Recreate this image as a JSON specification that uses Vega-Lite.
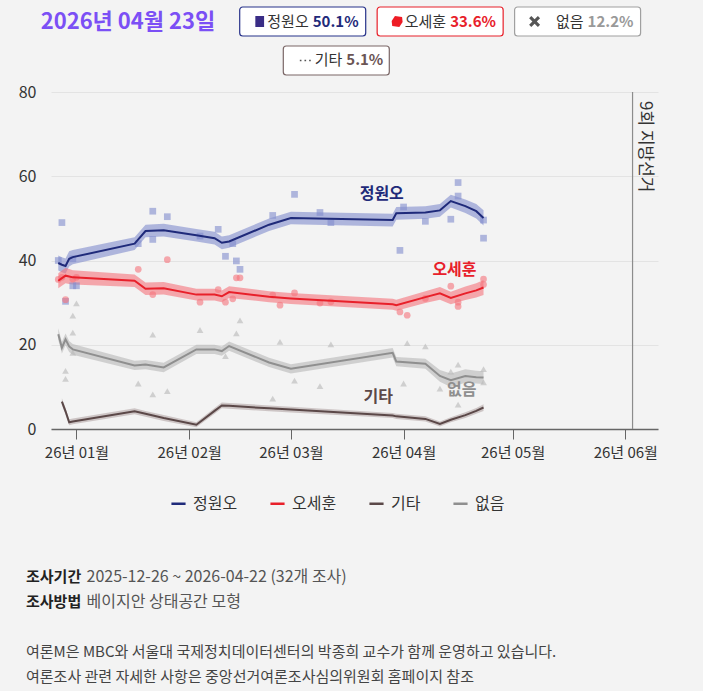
{
  "$schema": "https://vega.github.io/schema/vega-lite/v6.json",
  "background": "#f3f3f3",
  "padding": {"left": 18, "top": 6, "right": 45, "bottom": 10},
  "bounds": "flush",
  "spacing": 17,
  "config": {"font": "Noto Sans CJK KR", "view": {"stroke": null}},
  "datasets": {
    "badges": [
      {"row": 1, "key": "date", "label": "2026년 04월 23일"},
      {"row": 1, "key": "정원오", "pct": 0.501},
      {"row": 1, "key": "오세훈", "pct": 0.336},
      {"row": 1, "key": "없음", "pct": 0.122},
      {"row": 2, "key": "기타", "pct": 0.051}
    ],
    "trend": [
      {"who": "정원오", "date": "2025-12-27", "v": 39.4, "lo": 37.6, "hi": 41.2},
      {"who": "정원오", "date": "2025-12-28", "v": 39.0, "lo": 37.2, "hi": 40.8},
      {"who": "정원오", "date": "2025-12-29", "v": 38.7, "lo": 36.9, "hi": 40.5},
      {"who": "정원오", "date": "2025-12-30", "v": 40.4, "lo": 38.6, "hi": 42.2},
      {"who": "정원오", "date": "2025-12-31", "v": 40.8, "lo": 39.1, "hi": 42.5},
      {"who": "정원오", "date": "2026-01-17", "v": 44.0, "lo": 42.5, "hi": 45.5},
      {"who": "정원오", "date": "2026-01-20", "v": 47.0, "lo": 45.5, "hi": 48.5},
      {"who": "정원오", "date": "2026-01-25", "v": 47.2, "lo": 45.7, "hi": 48.7},
      {"who": "정원오", "date": "2026-02-03", "v": 46.0, "lo": 44.5, "hi": 47.5},
      {"who": "정원오", "date": "2026-02-08", "v": 45.3, "lo": 43.8, "hi": 46.8},
      {"who": "정원오", "date": "2026-02-10", "v": 44.2, "lo": 42.7, "hi": 45.7},
      {"who": "정원오", "date": "2026-02-12", "v": 44.5, "lo": 43.0, "hi": 46.0},
      {"who": "정원오", "date": "2026-02-23", "v": 48.5, "lo": 47.0, "hi": 50.0},
      {"who": "정원오", "date": "2026-03-01", "v": 50.1, "lo": 48.6, "hi": 51.6},
      {"who": "정원오", "date": "2026-03-29", "v": 49.6, "lo": 48.1, "hi": 51.1},
      {"who": "정원오", "date": "2026-03-30", "v": 51.2, "lo": 49.7, "hi": 52.7},
      {"who": "정원오", "date": "2026-04-07", "v": 51.4, "lo": 49.9, "hi": 52.9},
      {"who": "정원오", "date": "2026-04-11", "v": 51.9, "lo": 50.4, "hi": 53.4},
      {"who": "정원오", "date": "2026-04-14", "v": 54.1, "lo": 52.6, "hi": 55.6},
      {"who": "정원오", "date": "2026-04-18", "v": 52.9, "lo": 51.3, "hi": 54.5},
      {"who": "정원오", "date": "2026-04-21", "v": 51.7, "lo": 50.0, "hi": 53.4},
      {"who": "정원오", "date": "2026-04-23", "v": 50.1, "lo": 48.3, "hi": 51.9},
      {"who": "오세훈", "date": "2025-12-27", "v": 35.2, "lo": 33.4, "hi": 37.0},
      {"who": "오세훈", "date": "2025-12-28", "v": 35.8, "lo": 34.0, "hi": 37.6},
      {"who": "오세훈", "date": "2025-12-29", "v": 36.4, "lo": 34.6, "hi": 38.2},
      {"who": "오세훈", "date": "2025-12-30", "v": 36.2, "lo": 34.4, "hi": 38.0},
      {"who": "오세훈", "date": "2025-12-31", "v": 36.0, "lo": 34.3, "hi": 37.7},
      {"who": "오세훈", "date": "2026-01-17", "v": 35.2, "lo": 33.7, "hi": 36.7},
      {"who": "오세훈", "date": "2026-01-20", "v": 33.3, "lo": 31.8, "hi": 34.8},
      {"who": "오세훈", "date": "2026-01-25", "v": 33.4, "lo": 31.9, "hi": 34.9},
      {"who": "오세훈", "date": "2026-02-03", "v": 31.9, "lo": 30.5, "hi": 33.3},
      {"who": "오세훈", "date": "2026-02-08", "v": 31.9, "lo": 30.5, "hi": 33.3},
      {"who": "오세훈", "date": "2026-02-10", "v": 31.5, "lo": 30.1, "hi": 32.9},
      {"who": "오세훈", "date": "2026-02-12", "v": 32.5, "lo": 31.1, "hi": 33.9},
      {"who": "오세훈", "date": "2026-02-23", "v": 31.4, "lo": 30.1, "hi": 32.7},
      {"who": "오세훈", "date": "2026-03-01", "v": 31.0, "lo": 29.7, "hi": 32.3},
      {"who": "오세훈", "date": "2026-03-29", "v": 29.6, "lo": 28.3, "hi": 30.9},
      {"who": "오세훈", "date": "2026-03-30", "v": 29.4, "lo": 28.1, "hi": 30.7},
      {"who": "오세훈", "date": "2026-04-07", "v": 31.3, "lo": 29.9, "hi": 32.7},
      {"who": "오세훈", "date": "2026-04-11", "v": 32.2, "lo": 30.7, "hi": 33.7},
      {"who": "오세훈", "date": "2026-04-14", "v": 31.1, "lo": 29.6, "hi": 32.6},
      {"who": "오세훈", "date": "2026-04-18", "v": 32.2, "lo": 30.6, "hi": 33.8},
      {"who": "오세훈", "date": "2026-04-21", "v": 32.9, "lo": 31.2, "hi": 34.6},
      {"who": "오세훈", "date": "2026-04-23", "v": 33.6, "lo": 31.8, "hi": 35.4},
      {"who": "없음", "date": "2025-12-27", "v": 22.5, "lo": 21.1, "hi": 23.9},
      {"who": "없음", "date": "2025-12-28", "v": 19.3, "lo": 17.9, "hi": 20.7},
      {"who": "없음", "date": "2025-12-29", "v": 21.3, "lo": 19.9, "hi": 22.7},
      {"who": "없음", "date": "2025-12-30", "v": 19.6, "lo": 18.3, "hi": 20.9},
      {"who": "없음", "date": "2025-12-31", "v": 18.9, "lo": 17.6, "hi": 20.2},
      {"who": "없음", "date": "2026-01-17", "v": 15.1, "lo": 14.0, "hi": 16.2},
      {"who": "없음", "date": "2026-01-20", "v": 15.3, "lo": 14.2, "hi": 16.4},
      {"who": "없음", "date": "2026-01-25", "v": 14.6, "lo": 13.5, "hi": 15.7},
      {"who": "없음", "date": "2026-02-03", "v": 18.9, "lo": 17.8, "hi": 20.0},
      {"who": "없음", "date": "2026-02-08", "v": 18.9, "lo": 17.8, "hi": 20.0},
      {"who": "없음", "date": "2026-02-10", "v": 18.5, "lo": 17.4, "hi": 19.6},
      {"who": "없음", "date": "2026-02-12", "v": 19.7, "lo": 18.6, "hi": 20.8},
      {"who": "없음", "date": "2026-02-23", "v": 15.8, "lo": 14.7, "hi": 16.9},
      {"who": "없음", "date": "2026-03-01", "v": 14.3, "lo": 13.2, "hi": 15.4},
      {"who": "없음", "date": "2026-03-29", "v": 18.1, "lo": 17.0, "hi": 19.2},
      {"who": "없음", "date": "2026-03-30", "v": 16.0, "lo": 14.9, "hi": 17.1},
      {"who": "없음", "date": "2026-04-07", "v": 15.5, "lo": 14.3, "hi": 16.7},
      {"who": "없음", "date": "2026-04-11", "v": 12.6, "lo": 11.2, "hi": 14.0},
      {"who": "없음", "date": "2026-04-14", "v": 11.6, "lo": 10.0, "hi": 13.2},
      {"who": "없음", "date": "2026-04-18", "v": 12.6, "lo": 11.0, "hi": 14.2},
      {"who": "없음", "date": "2026-04-21", "v": 12.3, "lo": 10.8, "hi": 13.8},
      {"who": "없음", "date": "2026-04-23", "v": 12.2, "lo": 10.7, "hi": 13.7},
      {"who": "기타", "date": "2025-12-28", "v": 6.5, "lo": 5.7, "hi": 7.3},
      {"who": "기타", "date": "2025-12-29", "v": 4.2, "lo": 3.4, "hi": 5.0},
      {"who": "기타", "date": "2025-12-30", "v": 1.6, "lo": 0.9, "hi": 2.3},
      {"who": "기타", "date": "2025-12-31", "v": 1.8, "lo": 1.1, "hi": 2.5},
      {"who": "기타", "date": "2026-01-17", "v": 4.2, "lo": 3.5, "hi": 4.9},
      {"who": "기타", "date": "2026-01-20", "v": 3.6, "lo": 2.9, "hi": 4.3},
      {"who": "기타", "date": "2026-01-25", "v": 2.6, "lo": 1.9, "hi": 3.3},
      {"who": "기타", "date": "2026-02-03", "v": 1.0, "lo": 0.4, "hi": 1.6},
      {"who": "기타", "date": "2026-02-08", "v": 4.3, "lo": 3.6, "hi": 5.0},
      {"who": "기타", "date": "2026-02-10", "v": 5.6, "lo": 4.9, "hi": 6.3},
      {"who": "기타", "date": "2026-02-12", "v": 5.5, "lo": 4.8, "hi": 6.2},
      {"who": "기타", "date": "2026-02-23", "v": 4.9, "lo": 4.2, "hi": 5.6},
      {"who": "기타", "date": "2026-03-01", "v": 4.6, "lo": 3.9, "hi": 5.3},
      {"who": "기타", "date": "2026-03-29", "v": 3.2, "lo": 2.6, "hi": 3.8},
      {"who": "기타", "date": "2026-03-30", "v": 3.0, "lo": 2.4, "hi": 3.6},
      {"who": "기타", "date": "2026-04-07", "v": 2.4, "lo": 1.8, "hi": 3.0},
      {"who": "기타", "date": "2026-04-11", "v": 1.2, "lo": 0.6, "hi": 1.8},
      {"who": "기타", "date": "2026-04-14", "v": 2.2, "lo": 1.6, "hi": 2.8},
      {"who": "기타", "date": "2026-04-18", "v": 3.3, "lo": 2.6, "hi": 4.0},
      {"who": "기타", "date": "2026-04-21", "v": 4.3, "lo": 3.6, "hi": 5.0},
      {"who": "기타", "date": "2026-04-23", "v": 5.1, "lo": 4.3, "hi": 5.9}
    ],
    "polls": [
      {"who": "정원오", "date": "2025-12-27", "v": 40.0},
      {"who": "정원오", "date": "2025-12-28", "v": 49.0},
      {"who": "정원오", "date": "2025-12-29", "v": 30.3},
      {"who": "정원오", "date": "2025-12-31", "v": 40.4},
      {"who": "정원오", "date": "2025-12-31", "v": 34.0},
      {"who": "정원오", "date": "2026-01-01", "v": 34.0},
      {"who": "정원오", "date": "2026-01-18", "v": 44.0},
      {"who": "정원오", "date": "2026-01-22", "v": 51.7},
      {"who": "정원오", "date": "2026-01-22", "v": 45.0},
      {"who": "정원오", "date": "2026-01-26", "v": 50.4},
      {"who": "정원오", "date": "2026-02-04", "v": 45.8},
      {"who": "정원오", "date": "2026-02-09", "v": 47.4},
      {"who": "정원오", "date": "2026-02-11", "v": 41.0},
      {"who": "정원오", "date": "2026-02-13", "v": 44.0},
      {"who": "정원오", "date": "2026-02-14", "v": 39.9},
      {"who": "정원오", "date": "2026-02-15", "v": 37.9},
      {"who": "정원오", "date": "2026-02-24", "v": 50.7},
      {"who": "정원오", "date": "2026-03-02", "v": 55.7},
      {"who": "정원오", "date": "2026-03-09", "v": 51.4},
      {"who": "정원오", "date": "2026-03-12", "v": 49.0},
      {"who": "정원오", "date": "2026-03-31", "v": 42.4},
      {"who": "정원오", "date": "2026-04-01", "v": 52.7},
      {"who": "정원오", "date": "2026-04-07", "v": 49.3},
      {"who": "정원오", "date": "2026-04-14", "v": 49.8},
      {"who": "정원오", "date": "2026-04-16", "v": 58.5},
      {"who": "정원오", "date": "2026-04-16", "v": 55.3},
      {"who": "정원오", "date": "2026-04-23", "v": 49.6},
      {"who": "정원오", "date": "2026-04-23", "v": 45.3},
      {"who": "오세훈", "date": "2025-12-27", "v": 35.5},
      {"who": "오세훈", "date": "2025-12-28", "v": 36.0},
      {"who": "오세훈", "date": "2025-12-29", "v": 30.7},
      {"who": "오세훈", "date": "2025-12-31", "v": 35.6},
      {"who": "오세훈", "date": "2026-01-01", "v": 36.0},
      {"who": "오세훈", "date": "2026-01-18", "v": 37.9},
      {"who": "오세훈", "date": "2026-01-22", "v": 31.9},
      {"who": "오세훈", "date": "2026-01-26", "v": 40.2},
      {"who": "오세훈", "date": "2026-02-04", "v": 30.1},
      {"who": "오세훈", "date": "2026-02-09", "v": 33.1},
      {"who": "오세훈", "date": "2026-02-11", "v": 30.1},
      {"who": "오세훈", "date": "2026-02-13", "v": 30.9},
      {"who": "오세훈", "date": "2026-02-14", "v": 35.9},
      {"who": "오세훈", "date": "2026-02-15", "v": 35.9},
      {"who": "오세훈", "date": "2026-02-24", "v": 31.8},
      {"who": "오세훈", "date": "2026-02-26", "v": 29.4},
      {"who": "오세훈", "date": "2026-03-02", "v": 32.3},
      {"who": "오세훈", "date": "2026-03-09", "v": 29.9},
      {"who": "오세훈", "date": "2026-03-12", "v": 30.2},
      {"who": "오세훈", "date": "2026-03-31", "v": 27.8},
      {"who": "오세훈", "date": "2026-04-02", "v": 27.0},
      {"who": "오세훈", "date": "2026-04-07", "v": 31.0},
      {"who": "오세훈", "date": "2026-04-14", "v": 33.9},
      {"who": "오세훈", "date": "2026-04-16", "v": 29.1},
      {"who": "오세훈", "date": "2026-04-16", "v": 30.1},
      {"who": "오세훈", "date": "2026-04-23", "v": 35.6},
      {"who": "오세훈", "date": "2026-04-23", "v": 34.3},
      {"who": "없음", "date": "2025-12-29", "v": 13.8},
      {"who": "없음", "date": "2025-12-29", "v": 11.9},
      {"who": "없음", "date": "2025-12-31", "v": 26.9},
      {"who": "없음", "date": "2025-12-31", "v": 22.9},
      {"who": "없음", "date": "2025-12-31", "v": 18.1},
      {"who": "없음", "date": "2026-01-01", "v": 29.8},
      {"who": "없음", "date": "2026-01-18", "v": 10.8},
      {"who": "없음", "date": "2026-01-22", "v": 22.4},
      {"who": "없음", "date": "2026-01-22", "v": 8.2},
      {"who": "없음", "date": "2026-01-26", "v": 9.0},
      {"who": "없음", "date": "2026-02-04", "v": 23.5},
      {"who": "없음", "date": "2026-02-11", "v": 17.3},
      {"who": "없음", "date": "2026-02-14", "v": 22.7},
      {"who": "없음", "date": "2026-02-15", "v": 25.8},
      {"who": "없음", "date": "2026-02-24", "v": 7.2},
      {"who": "없음", "date": "2026-02-26", "v": 20.7},
      {"who": "없음", "date": "2026-03-02", "v": 11.5},
      {"who": "없음", "date": "2026-03-09", "v": 10.2},
      {"who": "없음", "date": "2026-03-12", "v": 20.1},
      {"who": "없음", "date": "2026-04-01", "v": 10.8},
      {"who": "없음", "date": "2026-04-02", "v": 20.4},
      {"who": "없음", "date": "2026-04-07", "v": 19.6},
      {"who": "없음", "date": "2026-04-11", "v": 9.6},
      {"who": "없음", "date": "2026-04-14", "v": 13.6},
      {"who": "없음", "date": "2026-04-16", "v": 15.3},
      {"who": "없음", "date": "2026-04-16", "v": 5.8},
      {"who": "없음", "date": "2026-04-23", "v": 14.2},
      {"who": "없음", "date": "2026-04-23", "v": 11.1}
    ],
    "labels": [
      {"who": "정원오", "date": "2026-03-26", "v": 55.7},
      {"who": "오세훈", "date": "2026-04-15", "v": 37.7},
      {"who": "기타", "date": "2026-03-25", "v": 7.7},
      {"who": "없음", "date": "2026-04-17", "v": 9.3}
    ],
    "notes": [
      {"line": 1, "head": "조사기간", "body": "2025-12-26 ~ 2026-04-22 (32개 조사)"},
      {"line": 2, "head": "조사방법", "body": "베이지안 상태공간 모형"},
      {"line": 4, "note": "여론M은 MBC와 서울대 국제정치데이터센터의 박종희 교수가 함께 운영하고 있습니다."},
      {"line": 5, "note": "여론조사 관련 자세한 사항은 중앙선거여론조사심의위원회 홈페이지 참조"}
    ]
  },
  "vconcat": [
    {
      "width": 607,
      "height": 68,
      "data": {"name": "badges"},
      "encoding": {
        "y": {"field": "row", "type": "ordinal", "scale": {"type": "band", "domain": [1, 2], "paddingInner": 0.2564, "paddingOuter": 0}, "axis": null}
      },
      "layer": [
        {
          "transform": [{"filter": "datum.row == 1"}],
          "encoding": {
            "x": {"field": "key", "type": "nominal", "scale": {"type": "band", "domain": ["date", "정원오", "오세훈", "없음"], "paddingInner": 0.0833, "paddingOuter": 0.2498, "align": 0.7465}, "axis": null}
          },
          "layer": [
            {
              "transform": [{"filter": "datum.key != 'date'"}],
              "mark": {"type": "rect", "fill": "white", "strokeWidth": 1.2, "cornerRadius": 3},
              "encoding": {"stroke": {"field": "key", "type": "nominal", "scale": {"domain": ["정원오", "오세훈", "없음", "기타"], "range": ["#27328a", "#e8202a", "#a0a0a0", "#7a6666"]}, "legend": null}}
            },
            {
              "transform": [{"filter": "datum.key != 'date'"}],
              "mark": {"type": "point", "filled": true, "opacity": 1, "size": 120, "xOffset": -43},
              "encoding": {
                "shape": {"field": "key", "type": "nominal", "scale": {"domain": ["정원오", "오세훈", "없음", "기타"], "range": ["M-0.8,-1H0.8V1H-0.8Z", "M-0.4,-1L0.9,-0.8L1,0.1L0.4,1L-0.9,0.8L-1,-0.1Z", "M-1,-0.6L-0.6,-1L0,-0.4L0.6,-1L1,-0.6L0.4,0L1,0.6L0.6,1L0,0.4L-0.6,1L-1,0.6L-0.4,0Z", "M-1,-0.15H-0.7V0.15H-1Z M-0.15,-0.15H0.15V0.15H-0.15Z M0.7,-0.15H1V0.15H0.7Z"]}, "legend": null},
                "fill": {"field": "key", "type": "nominal", "scale": {"domain": ["정원오", "오세훈", "없음", "기타"], "range": ["#3a2d86", "#ee1c25", "#555555", "#555555"]}, "legend": null}
              }
            },
            {
              "transform": [{"filter": "datum.key != 'date'"}],
              "mark": {"type": "text", "align": "right", "dx": 6, "fontSize": 15, "color": "#333333"},
              "encoding": {"text": {"field": "key", "type": "nominal"}}
            },
            {
              "transform": [{"filter": "datum.key != 'date'"}],
              "mark": {"type": "text", "align": "left", "dx": 10, "fontSize": 15, "fontWeight": "bold"},
              "encoding": {
                "text": {"field": "pct", "type": "quantitative", "format": ".1%"},
                "color": {"field": "key", "type": "nominal", "scale": {"domain": ["정원오", "오세훈", "없음", "기타"], "range": ["#1f2a7a", "#e8202a", "#999999", "#6b5555"]}, "legend": null}
              }
            },
            {
              "transform": [{"filter": "datum.key == 'date'"}],
              "mark": {"type": "text", "align": "right", "dx": 50, "fontSize": 22, "fontWeight": "bold", "color": "#7b4ff5"},
              "encoding": {"text": {"field": "label", "type": "nominal"}}
            }
          ]
        },
        {
          "transform": [{"filter": "datum.row == 2"}],
          "encoding": {
            "x": {"field": "key", "type": "nominal", "scale": {"type": "band", "domain": ["_a", "_b", "기타", "_c", "_d"], "paddingInner": 0.0874, "paddingOuter": 0.1567, "align": 0}, "axis": null}
          },
          "layer": [
            {
              "mark": {"type": "rect", "fill": "white", "strokeWidth": 1.2, "cornerRadius": 3},
              "encoding": {"stroke": {"field": "key", "type": "nominal", "scale": {"domain": ["정원오", "오세훈", "없음", "기타"], "range": ["#27328a", "#e8202a", "#a0a0a0", "#7a6666"]}, "legend": null}}
            },
            {
              "mark": {"type": "point", "filled": true, "opacity": 1, "size": 120, "xOffset": -31},
              "encoding": {
                "shape": {"field": "key", "type": "nominal", "scale": {"domain": ["정원오", "오세훈", "없음", "기타"], "range": ["M-0.8,-1H0.8V1H-0.8Z", "M-0.4,-1L0.9,-0.8L1,0.1L0.4,1L-0.9,0.8L-1,-0.1Z", "M-1,-0.6L-0.6,-1L0,-0.4L0.6,-1L1,-0.6L0.4,0L1,0.6L0.6,1L0,0.4L-0.6,1L-1,0.6L-0.4,0Z", "M-1,-0.15H-0.7V0.15H-1Z M-0.15,-0.15H0.15V0.15H-0.15Z M0.7,-0.15H1V0.15H0.7Z"]}, "legend": null},
                "fill": {"field": "key", "type": "nominal", "scale": {"domain": ["정원오", "오세훈", "없음", "기타"], "range": ["#3a2d86", "#ee1c25", "#555555", "#555555"]}, "legend": null}
              }
            },
            {
              "mark": {"type": "text", "align": "right", "dx": 6, "fontSize": 15, "color": "#333333"},
              "encoding": {"text": {"field": "key", "type": "nominal"}}
            },
            {
              "mark": {"type": "text", "align": "left", "dx": 10, "fontSize": 15, "fontWeight": "bold"},
              "encoding": {
                "text": {"field": "pct", "type": "quantitative", "format": ".1%"},
                "color": {"field": "key", "type": "nominal", "scale": {"domain": ["정원오", "오세훈", "없음", "기타"], "range": ["#1f2a7a", "#e8202a", "#999999", "#6b5555"]}, "legend": null}
              }
            }
          ]
        }
      ],
      "resolve": {"scale": {"x": "independent"}}
    },
    {
      "width": 607,
      "height": 337,
      "encoding": {
        "x": {
          "field": "date",
          "type": "temporal",
          "scale": {"type": "utc", "domain": [{"year": 2025, "month": 12, "date": 25, "utc": true}, {"year": 2026, "month": 6, "date": 10, "utc": true}]},
          "axis": {
            "title": null,
            "grid": false,
            "format": "%y년 %m월",
            "values": [
              {"year": 2026, "month": 1, "date": 1, "utc": true},
              {"year": 2026, "month": 2, "date": 1, "utc": true},
              {"year": 2026, "month": 3, "date": 1, "utc": true},
              {"year": 2026, "month": 4, "date": 1, "utc": true},
              {"year": 2026, "month": 5, "date": 1, "utc": true},
              {"year": 2026, "month": 6, "date": 1, "utc": true}
            ],
            "domainColor": "#666666",
            "domainWidth": 1.3,
            "tickColor": "#666666",
            "tickSize": 10,
            "labelFontSize": 15,
            "labelColor": "#333333",
            "labelPadding": 6
          }
        }
      },
      "layer": [
        {
          "data": {"name": "trend"},
          "mark": {"type": "area", "opacity": 0.6},
          "encoding": {
            "y": {
              "field": "lo",
              "type": "quantitative",
              "scale": {"domain": [0, 80], "nice": false},
              "axis": {"title": null, "values": [0, 20, 40, 60, 80], "domain": false, "ticks": false, "grid": true, "gridColor": "#e3e3e3", "labelFontSize": 16, "labelColor": "#333333", "labelPadding": 15}
            },
            "y2": {"field": "hi"},
            "fill": {"field": "who", "type": "nominal", "scale": {"domain": ["정원오", "오세훈", "없음", "기타"], "range": ["#808ccd", "#f5737b", "#b8b8b8", "#b4a6a6"]}, "legend": null}
          }
        },
        {
          "data": {"name": "polls"},
          "mark": {"type": "point", "filled": true, "opacity": 0.6, "size": 45},
          "encoding": {
            "y": {"field": "v", "type": "quantitative"},
            "fill": {"field": "who", "type": "nominal", "scale": {"domain": ["정원오", "오세훈", "없음", "기타"], "range": ["#808ccd", "#f5737b", "#b8b8b8", "#b4a6a6"]}, "legend": null},
            "shape": {"field": "who", "type": "nominal", "scale": {"domain": ["정원오", "오세훈", "없음"], "range": ["square", "circle", "triangle-up"]}, "legend": null}
          }
        },
        {
          "data": {"name": "trend"},
          "mark": {"type": "line", "strokeWidth": 2},
          "encoding": {
            "y": {"field": "v", "type": "quantitative"},
            "color": {
              "field": "who",
              "type": "nominal",
              "scale": {"domain": ["정원오", "오세훈", "기타", "없음"], "range": ["#1f2a7a", "#e8202a", "#5b4848", "#8f8f8f"]},
              "legend": {"orient": "none", "legendX": 119, "legendY": 403, "direction": "horizontal", "title": null, "symbolType": "stroke", "symbolStrokeWidth": 2.5, "symbolSize": 200, "labelFontSize": 16, "labelColor": "#333333", "columnPadding": 27, "labelOffset": 6}
            }
          }
        },
        {
          "data": {"values": [{"date": "2026-06-03", "label": "9회 지방선거"}]},
          "mark": {"type": "rule", "color": "#8c8c8c", "strokeWidth": 1.2},
          "encoding": {}
        },
        {
          "data": {"values": [{"date": "2026-06-03", "label": "9회 지방선거"}]},
          "mark": {"type": "text", "angle": 90, "align": "left", "baseline": "bottom", "dx": 9, "dy": -3, "fontSize": 17, "color": "#333333"},
          "encoding": {
            "y": {"datum": 80, "type": "quantitative"},
            "text": {"field": "label", "type": "nominal"}
          }
        },
        {
          "data": {"name": "labels"},
          "mark": {"type": "text", "fontSize": 16, "fontWeight": "bold"},
          "encoding": {
            "y": {"field": "v", "type": "quantitative"},
            "text": {"field": "who", "type": "nominal"},
            "color": {"field": "who", "type": "nominal"}
          }
        }
      ]
    },
    {
      "width": 1,
      "height": 231,
      "data": {"name": "notes"},
      "encoding": {
        "y": {"field": "line", "type": "ordinal", "scale": {"type": "point", "domain": [-4, -3, -2, -1, 0, 1, 2, 3, 4, 5], "padding": 0.12, "align": 1}, "axis": null}
      },
      "layer": [
        {
          "transform": [{"filter": "datum.head"}],
          "mark": {"type": "text", "align": "left", "dx": -25.5, "fontSize": 15, "fontWeight": "bold", "color": "#222222"},
          "encoding": {"text": {"field": "head", "type": "nominal"}}
        },
        {
          "transform": [{"filter": "datum.body"}],
          "mark": {"type": "text", "align": "left", "dx": 35, "fontSize": 16, "color": "#555555"},
          "encoding": {"text": {"field": "body", "type": "nominal"}}
        },
        {
          "transform": [{"filter": "datum.note"}],
          "mark": {"type": "text", "align": "left", "dx": -25.5, "fontSize": 15, "color": "#444444"},
          "encoding": {"text": {"field": "note", "type": "nominal"}}
        }
      ]
    }
  ],
  "resolve": {
    "scale": {"x": "independent", "y": "independent", "color": "independent", "fill": "independent", "stroke": "independent", "shape": "independent"},
    "legend": {"color": "independent", "fill": "independent", "stroke": "independent", "shape": "independent"}
  }
}
